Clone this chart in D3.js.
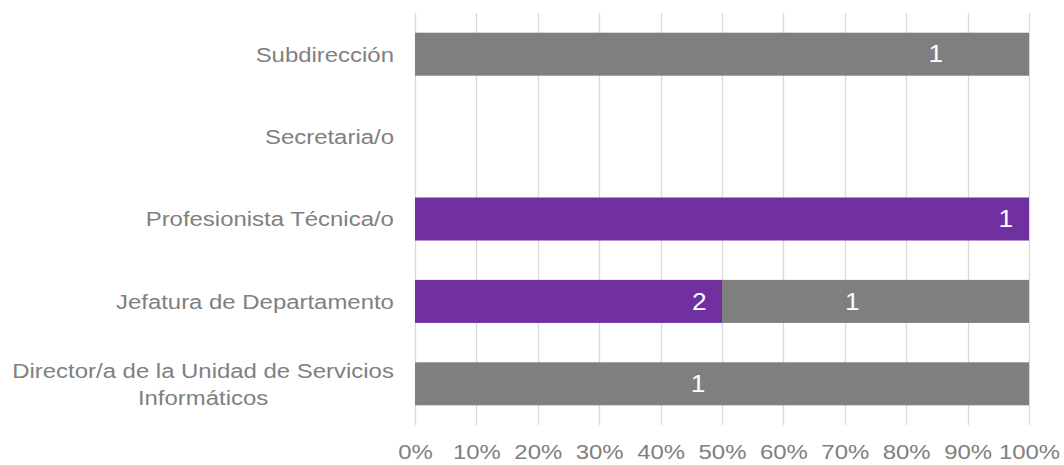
<!DOCTYPE html>
<html lang="es">
<head>
<meta charset="utf-8">
<script src="https://cdn.jsdelivr.net/npm/d3@7"></script>
<style>
  html, body { margin: 0; padding: 0; background: #ffffff; }
  svg { display: block; }
  text { font-family: "Liberation Sans", Arial, sans-serif; }
</style>
</head>
<body>
<svg id="chart" width="1064" height="465"></svg>
<script>
// Puestos (de arriba hacia abajo)
const categories = [
  "Subdirección",
  "Secretaria/o",
  "Profesionista Técnica/o",
  "Jefatura de Departamento",
  "Director/a de la Unidad de Servicios Informáticos"
];
// Participación porcentual de cada serie por puesto
const purpleShare = [0, 0, 100, 50, 0];
const grayShare   = [100, 0, 0, 50, 100];
// Número de personas mostrado en cada segmento
const purpleCount = [null, null, 1, 2, null];
const grayCount   = [1, null, null, 1, 1];
// Eje horizontal
const tickValues = [0, 10, 20, 30, 40, 50, 60, 70, 80, 90, 100];

// Posición (en % del eje) del centro de cada etiqueta de dato
const purpleLabelAt = [null, null, 96.2, 46.3, null];
const grayLabelAt   = [84.8, null, null, 71.2, 46.1];

const W = 1064, H = 465;
const plot = { left: 415, right: 1029, top: 13, bottom: 425 };
const SX = 1.14;          // ensanchamiento horizontal del texto
const FS = 21;            // tamaño de los rótulos de ejes
const FS_DATA = 23;       // tamaño de las etiquetas de datos
const textColor = "#808080";
const colors = { purple: "#7030A0", gray: "#7F7F7F", grid: "#D9D9D9" };

const svg = d3.select("#chart");

const x = d3.scaleLinear().domain([0, 100]).range([plot.left, plot.right]);
const y = d3.scaleBand().domain(categories).range([plot.top, plot.bottom])
  .paddingInner(0.478).paddingOuter(0.239);

// Líneas de cuadrícula verticales
svg.append("g")
  .selectAll("line")
  .data(tickValues)
  .join("line")
  .attr("x1", d => Math.round(x(d)) + 0.5)
  .attr("x2", d => Math.round(x(d)) + 0.5)
  .attr("y1", plot.top)
  .attr("y2", plot.bottom)
  .attr("stroke", colors.grid)
  .attr("stroke-width", 1.3);

// Segmentos apilados
const rows = categories.map((c, i) => ({
  cat: c,
  segs: [
    { start: 0, share: purpleShare[i], color: colors.purple, count: purpleCount[i], at: purpleLabelAt[i] },
    { start: purpleShare[i], share: grayShare[i], color: colors.gray, count: grayCount[i], at: grayLabelAt[i] }
  ]
}));

const rowG = svg.append("g").selectAll("g")
  .data(rows)
  .join("g");

rowG.selectAll("rect")
  .data(d => d.segs.map(s => ({ ...s, cat: d.cat })).filter(s => s.share > 0))
  .join("rect")
  .attr("x", d => x(d.start))
  .attr("width", d => x(d.start + d.share) - x(d.start))
  .attr("y", d => y(d.cat))
  .attr("height", y.bandwidth())
  .attr("fill", d => d.color);

// Etiquetas de datos
rowG.selectAll("text")
  .data(d => d.segs.map(s => ({ ...s, cat: d.cat })).filter(s => s.share > 0 && s.count != null))
  .join("text")
  .attr("transform", d => `translate(${x(d.at)},${y(d.cat) + y.bandwidth() / 2 + FS_DATA * 0.355}) scale(${SX},1)`)
  .attr("text-anchor", "middle")
  .attr("font-size", FS_DATA)
  .attr("fill", "#ffffff")
  .text(d => d.count);

// Eje inferior (porcentajes)
const xAxis = svg.append("g")
  .attr("transform", `translate(0,${plot.bottom})`)
  .call(d3.axisBottom(x).tickValues(tickValues).tickFormat(d => d + "%").tickSize(0).tickPadding(0));
xAxis.select(".domain").remove();
xAxis.selectAll(".tick text")
  .attr("y", 0)
  .attr("dy", null)
  .attr("transform", `translate(0,34) scale(${SX},1)`)
  .attr("font-size", FS)
  .attr("font-family", null)
  .attr("fill", textColor);

// Eje de categorías, con ajuste de línea y líneas centradas entre sí
const yAxis = svg.append("g")
  .attr("transform", `translate(${plot.left},0)`)
  .call(d3.axisLeft(y).tickSize(0).tickPadding(0));
yAxis.select(".domain").remove();
const labelRight = 394;
const maxWidth = 400;
const lineGap = 26.6;
yAxis.selectAll(".tick").each(function (cat) {
  const tick = d3.select(this);
  tick.select("text").remove();
  const g = tick.append("g");
  const probe = g.append("text").attr("font-size", FS);
  // reparto de palabras en líneas
  const words = cat.split(" ");
  const lines = [];
  let cur = "";
  for (const w of words) {
    const test = cur ? cur + " " + w : w;
    probe.text(test);
    if (probe.node().getComputedTextLength() * SX > maxWidth && cur) {
      lines.push(cur);
      cur = w;
    } else {
      cur = test;
    }
  }
  lines.push(cur);
  const widths = lines.map(l => { probe.text(l); return probe.node().getComputedTextLength(); });
  probe.remove();
  const blockW = d3.max(widths);
  const cx = (labelRight - plot.left) / SX - blockW / 2;
  g.attr("transform", `scale(${SX},1)`);
  const t = g.append("text")
    .attr("font-size", FS)
    .attr("fill", textColor)
    .attr("text-anchor", "middle");
  const y0 = -(lines.length - 1) * lineGap / 2 + FS * 0.355;
  lines.forEach((l, i) => {
    t.append("tspan").attr("x", cx).attr("y", y0 + i * lineGap).text(l);
  });
});
</script>
</body>
</html>
